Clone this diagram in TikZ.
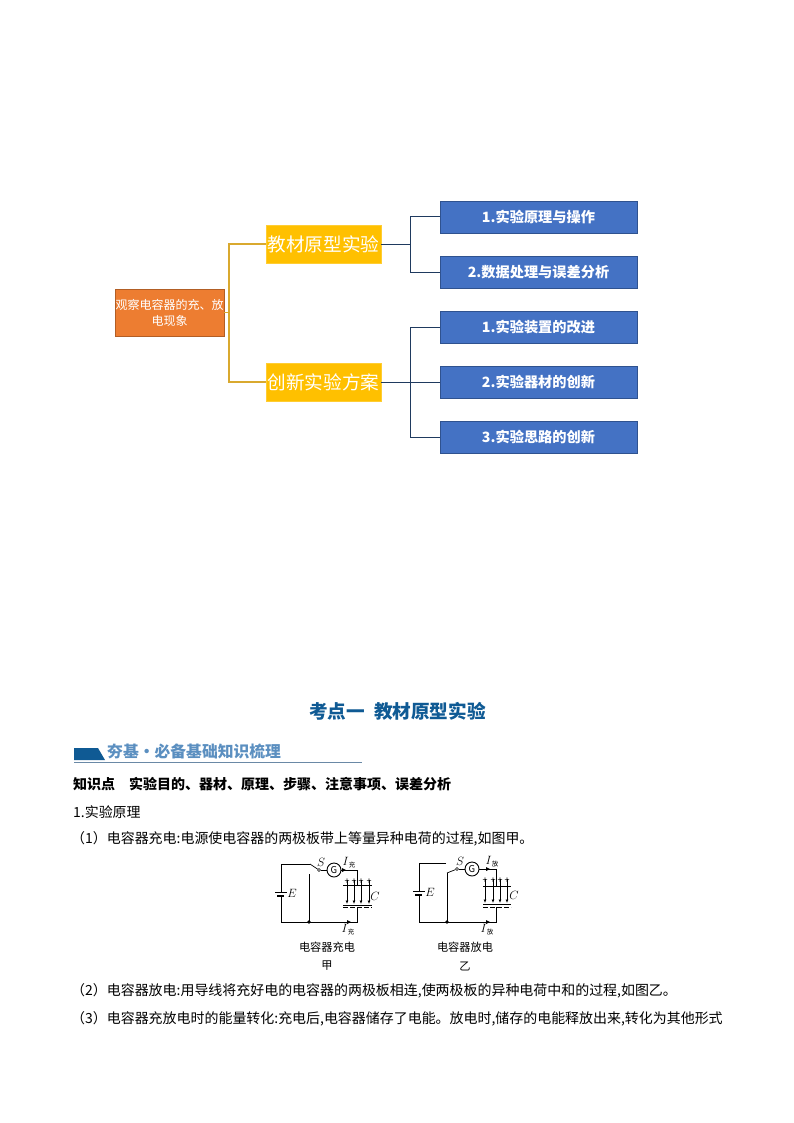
\documentclass[tikz,border=0pt]{standalone}
\usepackage{fontspec}
\setmainfont{Noto Sans CJK SC}
\usetikzlibrary{
    arrows.meta,
    positioning
}
\definecolor{rootfill}{HTML}{ED7D31}
\definecolor{yellowfill}{HTML}{FFC000}
\definecolor{bluefill}{HTML}{4472C4}
\definecolor{blueedge}{HTML}{2F528F}
\definecolor{forkdark}{HTML}{1F3A5F}
\definecolor{forkyellow}{HTML}{D9A92F}
\definecolor{headblue}{HTML}{0F5A94}
\definecolor{bannerblue}{HTML}{5B8FC0}
\newcommand{\fsz}[1]{\fontsize{#1}{#1}\selectfont}
\newcommand{\curlabel}[1]{$I$\raisebox{-2pt}{\fsz{6.5}#1}}
\tikzset{
    rootbox/.style={draw=rootfill!75!black, fill=rootfill, text=white, minimum width=109, minimum height=47, inner sep=0, align=center, font=\fontsize{12}{16}\selectfont},
    yellowbox/.style={draw=yellowfill!80!white, fill=yellowfill, text=white, minimum width=115, minimum height=38, inner sep=0, font=\fsz{18.6}},
    bluebox/.style={draw=blueedge, fill=bluefill, text=white, minimum width=197, minimum height=32, inner sep=0, font=\fsz{14.2}\bfseries},
    fork/.style={draw=forkdark, line width=1},
    forky/.style={draw=forkyellow, line width=1.1},
    bodyline/.style={anchor=west, inner sep=0, font=\fsz{13.96}},
    caption/.style={inner sep=0, font=\fsz{11.2}},
    wire/.style={line width=1},
    cirsym/.style={inner sep=0, font=\fsz{12}}
}
\begin{document}
\begin{tikzpicture}[x=1pt, y=-1pt]
    \useasboundingbox (0, 0) rectangle (794, 1123);
    % mind map
    \node[rootbox] (root) at (169.5, 312.5) {观察电容器的充、放\\电现象};
    \node[yellowbox] (book) at (323.5, 244) {教材原型实验};
    \node[yellowbox] (novel) at (323.5, 382) {创新实验方案};
    \node[bluebox] (bookA) at (538.5, 217) {1.实验原理与操作};
    \node[bluebox] (bookB) at (538.5, 272) {2.数据处理与误差分析};
    \node[bluebox] (novelA) at (538.5, 327) {1.实验装置的改进};
    \node[bluebox] (novelB) at (538.5, 382) {2.实验器材的创新};
    \node[bluebox] (novelC) at (538.5, 437) {3.实验思路的创新};
    \coordinate (rootfork) at (229, 312.5);
    \coordinate (bookfork) at (410, 244);
    \coordinate (novelfork) at (410, 382);
    \draw[forky] (root.east) -- (rootfork) |- (book.west);
    \draw[forky] (rootfork) |- (novel.west);
    \draw[fork] (book.east) -- (bookfork) |- (bookA.west);
    \draw[fork] (bookfork) |- (bookB.west);
    \draw[fork] (novel.east) -- (novelfork) |- (novelA.west);
    \draw[fork] (novelfork) -- (novelB.west);
    \draw[fork] (novelfork) |- (novelC.west);
    % headings
    \node[inner sep=0, text=headblue, font=\fsz{18.6}\bfseries] (title) at (397.5, 711.5) {考点一\hspace{9pt}教材原型实验};
    \fill[headblue] (74, 748) -- (98, 748) -- (105, 760) -- (74, 760) -- cycle;
    \draw[bannerblue!60!gray, line width=0.8] (74, 762) -- (362, 762);
    \node[anchor=west, inner sep=0, text=bannerblue, font=\fsz{15.8}\bfseries] (banner) at (107, 751) {夯基·必备基础知识梳理};
    % text lines
    \node[bodyline, font=\fsz{14}\bfseries] (point) at (73, 784) {知识点\hspace{14pt}实验目的、器材、原理、步骤、注意事项、误差分析};
    \node[bodyline] (lineA) at (73, 812) {1.实验原理};
    \node[bodyline] (lineB) at (71, 839) {（1）电容器充电:电源使电容器的两极板带上等量异种电荷的过程,如图甲。};
    \node[bodyline] (lineC) at (71, 991) {（2）电容器放电:用导线将充好电的电容器的两极板相连,使两极板的异种电荷中和的过程,如图乙。};
    \node[bodyline] (lineD) at (71, 1019) {（3）电容器充放电时的能量转化:充电后,电容器储存了电能。放电时,储存的电能释放出来,转化为其他形式};
    % charge circuit
    \node[draw, circle, line width=0.9, minimum size=14, inner sep=0, font=\fsz{9.5}] (gaugeA) at (334, 870) {G};
    \node[draw, circle, minimum size=3, inner sep=0] (contactA) at (319, 870) {};
    \draw[wire] (310, 864) -- (281, 864) -- (281, 892) (281, 896) -- (281, 922) -- (357, 922) -- (357, 907);
    \draw[line width=0.7] (310, 864) -- (contactA);
    \draw[wire] (contactA) -- (gaugeA);
    \draw[wire] (gaugeA) -- (357, 870) -- (357, 885);
    \draw[wire] (309, 874) -- (309, 922);
    \fill (309, 922) circle (1.8);
    \draw[wire] (275, 892) -- (287, 892);
    \draw[line width=1.3] (277, 896) -- (284, 896);
    \draw[wire] (343, 885) -- (372, 885) (343, 905) -- (372, 905);
    \draw[wire, dash pattern=on 5 off 2] (343, 907.5) -- (372, 907.5);
    \foreach \x in {347, 354, 361, 369} {
        \draw[line width=0.7, -{Latex[length=3.5, width=3]}] (\x, 880) -- (\x, 904);
        \node[cirsym, font=\fsz{9}] at (\x, 882) {+};
    }
    \fill (342, 868) -- (346, 870) -- (342, 872) -- cycle;
    \fill (347, 920) -- (351, 922) -- (347, 924) -- cycle;
    \node[cirsym] (switchA) at (321, 862.5) {$S$};
    \node[cirsym] (currA) at (349, 862.5) {\curlabel{充}};
    \node[cirsym] (currB) at (348, 930) {\curlabel{充}};
    \node[cirsym] (emfA) at (292, 893) {$E$};
    \node[cirsym] (capA) at (375, 896) {$C$};
    \node[caption] (capcharge) at (327, 947) {电容器充电};
    \node[caption] (jia) at (327, 966) {甲};
    % discharge circuit
    \node[draw, circle, line width=0.9, minimum size=14, inner sep=0, font=\fsz{9.5}] (gaugeB) at (472, 869) {G};
    \node[draw, circle, minimum size=3, inner sep=0] (contactB) at (457, 869) {};
    \draw[wire] (446, 863) -- (419, 863) -- (419, 891) (419, 895) -- (419, 922) -- (496, 922) -- (496, 907);
    \draw[line width=0.7] (447, 873) -- (contactB);
    \draw[wire] (contactB) -- (gaugeB);
    \draw[wire] (gaugeB) -- (496, 869) -- (496, 886);
    \draw[wire] (447, 873) -- (447, 922);
    \fill (447, 922) circle (1.8);
    \draw[wire] (413, 891) -- (425, 891);
    \draw[line width=1.3] (415, 895) -- (422, 895);
    \draw[wire] (483, 886) -- (511, 886) (483, 904) -- (511, 904);
    \draw[wire, dash pattern=on 5 off 2] (483, 907) -- (511, 907);
    \foreach \x in {485, 493, 500, 507} {
        \draw[line width=0.7, -{Latex[length=3.5, width=3]}] (\x, 879) -- (\x, 903);
        \node[cirsym, font=\fsz{9}] at (\x, 881) {+};
    }
    \fill (486, 867) -- (490, 869) -- (486, 871) -- cycle;
    \fill (486, 920) -- (490, 922) -- (486, 924) -- cycle;
    \node[cirsym] (switchB) at (460, 861.5) {$S$};
    \node[cirsym] (currC) at (492, 862) {\curlabel{放}};
    \node[cirsym] (currD) at (487, 930) {\curlabel{放}};
    \node[cirsym] (emfB) at (430, 892) {$E$};
    \node[cirsym] (capB) at (514, 895) {$C$};
    \node[caption] (capdis) at (465, 947) {电容器放电};
    \node[caption] (yi) at (465, 966) {乙};
\end{tikzpicture}
\end{document}
